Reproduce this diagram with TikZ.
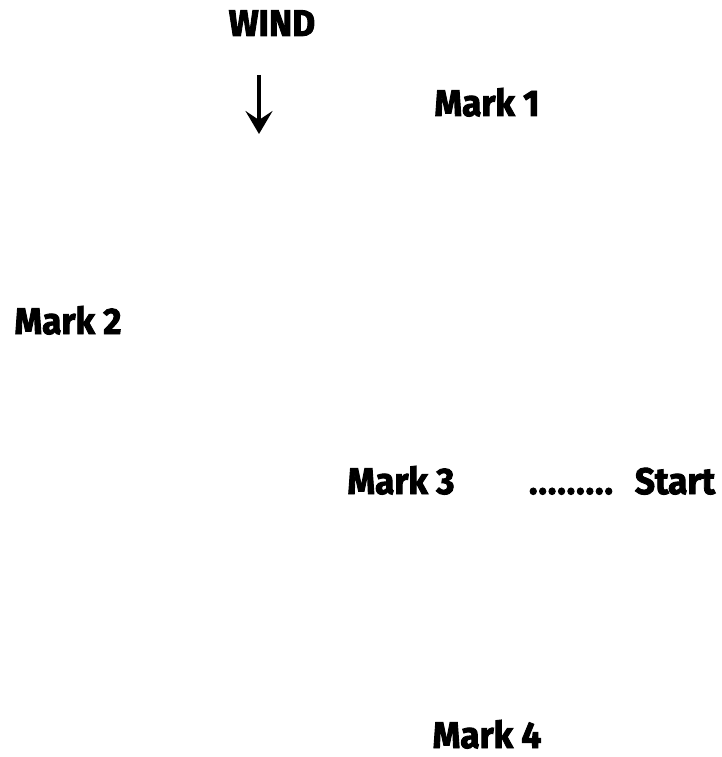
\documentclass[tikz,border=0pt]{standalone}
\usepackage{fontspec}
\setmainfont{Fira Sans}[FakeStretch=0.95, BoldFeatures={FakeBold=2.5}]
\usetikzlibrary{arrows.meta}
\tikzset{lbl/.style={inner sep=0pt, anchor=base, font=\fontsize{37}{37}\selectfont\bfseries}}
\begin{document}
\begin{tikzpicture}[x=1pt,y=-1pt]
\useasboundingbox (0,0) rectangle (721,757);
\node[lbl] (wind) at (272,36) {WIND};
\coordinate (a1) at (259,75);
\coordinate (a2) at (259,134);
\draw[line width=4pt, -{Stealth[length=23pt,width=27pt,inset=9pt]}] (a1) -- (a2);
\node[lbl] (m1) at (487,116) {Mark 1};
\node[lbl] (m2) at (68,334) {Mark 2};
\node[lbl] (m3) at (401,494) {Mark 3};
\node[lbl] (dots) at (571,494) {.\kern1pt.\kern1pt.\kern1pt.\kern1pt.\kern1pt.\kern1pt.\kern1pt.\kern1pt.};
\node[lbl] (start) at (675,494) {Start};
\node[lbl] (m4) at (487,748) {Mark 4};
\end{tikzpicture}
\end{document}
